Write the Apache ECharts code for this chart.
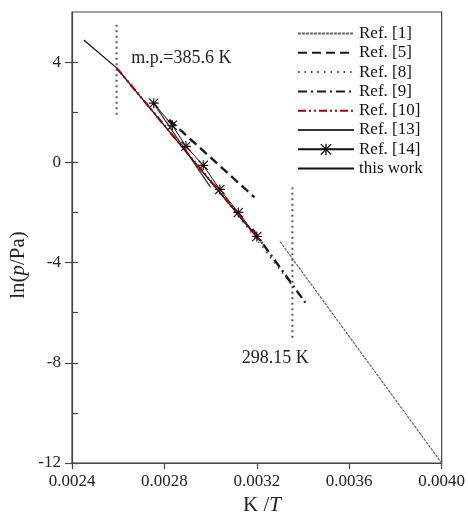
<!DOCTYPE html>
<html>
<head>
<meta charset="utf-8">
<script src="https://cdn.jsdelivr.net/npm/echarts@6/dist/echarts.min.js"></script>
<style>
  html, body { margin: 0; padding: 0; background: #fff; }
  #main { width: 468px; height: 522px; }
</style>
</head>
<body>
<div id="main"></div>
<script>
// values: K/T on x, ln(p/Pa) on y
const ref1X = [0.00330, 0.00400];
const ref1Y = [-3.16, -12.0];
const ref5X = [0.00282, 0.00319];
const ref5Y = [1.7, -1.4];
const ref8X = [0.00300, 0.00336];
const ref8Y = [-0.7, -5.0];
const ref9X = [0.00318, 0.00341];
const ref9Y = [-2.66, -5.6];
const ref10X = [0.002594, 0.003225];
const ref10Y = [3.76, -3.24];
const ref13X = [0.00275, 0.00300];
const ref13Y = [2.4, -1.0];
const ref14X = [0.002754, 0.002834, 0.002893, 0.002968, 0.00304, 0.00312, 0.00320];
const ref14Y = [2.36, 1.48, 0.64, -0.12, -1.08, -2.0, -2.96];
const thisWorkX = [0.002451, 0.002594, 0.00321];
const thisWorkY = [4.88, 3.76, -3.1];

// vertical marker lines
const mpLineX = [0.002593, 0.002593];
const mpLineY = [1.9, 5.5];
const rtLineX = [0.003354, 0.003354];
const rtLineY = [-7.0, -1.0];

const yTicks = [-12, -8, -4, 0, 4];
const yMinorTicks = [-12, -10, -8, -6, -4, -2, 0, 2, 4];

const legendNames = ['Ref. [1]', 'Ref. [5]', 'Ref. [8]', 'Ref. [9]', 'Ref. [10]', 'Ref. [13]', 'Ref. [14]', 'this work'];

const serif = "'Liberation Serif', 'Times New Roman', serif";
const axisColor = '#444';

function pts(xs, ys) {
    return xs.map((x, i) => [x, ys[i]]);
}

function lineSeries(name, xs, ys, style, z) {
    return {
        name: name,
        type: 'line',
        data: pts(xs, ys),
        symbol: 'none',
        lineStyle: style,
        itemStyle: { color: style.color },
        z: z || 3
    };
}

// asterisk marker built from thin bars
const starPath = 'path://M0,4.4L10,4.4L10,5.6L0,5.6Z M4.4,0L5.6,0L5.6,10L4.4,10Z M0.8,0L10,9.2L9.2,10L0,0.8Z M9.2,0L10,0.8L0.8,10L0,9.2Z';

const chart = echarts.init(document.getElementById('main'));

const option = {
    animation: false,
    backgroundColor: '#fff',
    grid: {
        left: 72,
        right: 16,
        top: 12,
        bottom: 59,
        show: true,
        borderColor: axisColor,
        borderWidth: 1.2,
        backgroundColor: 'transparent'
    },
    legend: {
        orient: 'vertical',
        left: 297,
        top: 25,
        padding: 0,
        itemWidth: 56,
        itemHeight: 14,
        itemGap: 2.3,
        // only Ref. [14] keeps a marker in its key
        data: legendNames.map(n => n === 'Ref. [14]'
            ? { name: n }
            : { name: n, itemStyle: { opacity: 0 } }),
        textStyle: { fontFamily: serif, fontSize: 17, color: '#111' }
    },
    xAxis: {
        type: 'value',
        min: 0.0024,
        max: 0.0040,
        interval: 0.0004,
        axisLine: { show: true, onZero: false, lineStyle: { color: axisColor, width: 1.2 } },
        axisTick: { show: true, inside: false, length: 6, lineStyle: { color: axisColor, width: 1.2 } },
        axisLabel: {
            margin: 10,
            fontFamily: serif,
            fontSize: 17,
            color: '#222',
            formatter: v => v.toFixed(4)
        },
        splitLine: { show: false }
    },
    yAxis: [{
        type: 'value',
        min: -12,
        max: 6,
        interval: 4,
        axisLine: { show: true, onZero: false, lineStyle: { color: axisColor, width: 1.2 } },
        axisTick: { show: true, inside: false, length: 7, customValues: yTicks, lineStyle: { color: axisColor, width: 1.2 } },
        axisLabel: {
            margin: 11,
            fontFamily: serif,
            fontSize: 17,
            color: '#222',
            customValues: yTicks
        },
        splitLine: { show: false }
    }, {
        // inside ticks (majors and minors)
        type: 'value',
        position: 'left',
        min: -12,
        max: 6,
        interval: 2,
        axisLine: { show: false, onZero: false },
        axisTick: { show: true, inside: true, length: 6, customValues: yMinorTicks, lineStyle: { color: axisColor, width: 1.2 } },
        axisLabel: { show: false },
        splitLine: { show: false }
    }],
    series: [
        lineSeries('Ref. [1]', ref1X, ref1Y, { color: '#666', width: 1.2, type: [3, 1] }),
        lineSeries('Ref. [5]', ref5X, ref5Y, { color: '#1a1a1a', width: 2.4, type: [9, 5] }),
        lineSeries('Ref. [8]', ref8X, ref8Y, { color: '#444', width: 1.6, type: [1.5, 5] }),
        lineSeries('Ref. [9]', ref9X, ref9Y, { color: '#1a1a1a', width: 2.4, type: [9, 4, 2, 4] }),
        lineSeries('Ref. [10]', ref10X, ref10Y, { color: '#a50000', width: 2.2, type: [8, 3, 2, 3, 2, 3] }, 6),
        lineSeries('Ref. [13]', ref13X, ref13Y, { color: '#333', width: 1.3, type: 'solid' }),
        {
            name: 'Ref. [14]',
            type: 'line',
            data: pts(ref14X, ref14Y),
            symbol: starPath,
            symbolSize: 10,
            showSymbol: true,
            lineStyle: { color: '#111', width: 1 },
            itemStyle: { color: '#111' },
            z: 4
        },
        lineSeries('this work', thisWorkX, thisWorkY, { color: '#111', width: 1.3, type: 'solid' }),
        {
            name: 'mp-line',
            type: 'line',
            data: pts(mpLineX, mpLineY),
            symbol: 'none',
            silent: true,
            lineStyle: { color: '#555', width: 2, type: [2, 3.5] }
        },
        {
            name: 'rt-line',
            type: 'line',
            data: pts(rtLineX, rtLineY),
            symbol: 'none',
            silent: true,
            lineStyle: { color: '#555', width: 2, type: [2, 3.5] }
        }
    ]
};

chart.setOption(option);

// annotations and axis titles
const mpPos = chart.convertToPixel({ gridIndex: 0 }, [0.002657, 4.16]);
const rtPos = chart.convertToPixel({ gridIndex: 0 }, [0.00328, -7.8]);
const titleFont = "21px " + serif;

chart.setOption({
    graphic: [
        {
            type: 'text',
            x: mpPos[0],
            y: mpPos[1],
            style: { text: 'm.p.=385.6 K', font: '18px ' + serif, fill: '#222', align: 'left', verticalAlign: 'middle' }
        },
        {
            type: 'text',
            x: rtPos[0],
            y: rtPos[1],
            style: { text: '298.15 K', font: '18px ' + serif, fill: '#222', align: 'center', verticalAlign: 'middle' }
        },
        {
            type: 'text',
            x: 262,
            y: 505,
            style: {
                text: '{a|K /}{i|T}',
                align: 'center',
                verticalAlign: 'middle',
                rich: {
                    a: { font: titleFont, fill: '#222' },
                    i: { font: 'italic ' + titleFont, fill: '#222' }
                }
            }
        },
        {
            type: 'text',
            x: 18,
            y: 265,
            rotation: Math.PI / 2,
            style: {
                text: '{a|ln(}{i|p}{a|/Pa)}',
                align: 'center',
                verticalAlign: 'middle',
                rich: {
                    a: { font: titleFont, fill: '#222' },
                    i: { font: 'italic ' + titleFont, fill: '#222' }
                }
            }
        }
    ]
});
</script>
</body>
</html>
